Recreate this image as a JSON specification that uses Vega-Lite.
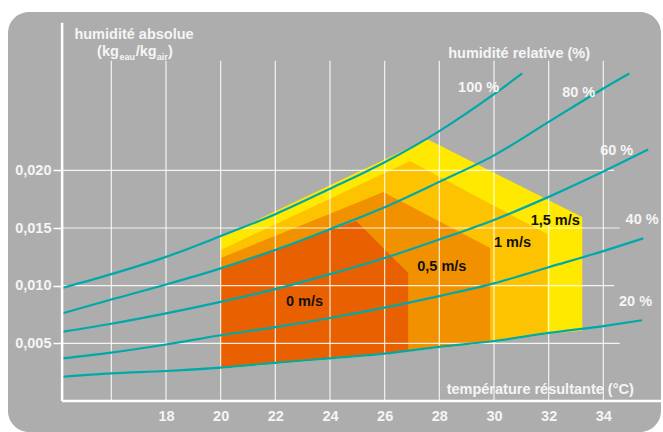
{
  "$schema": "https://vega.github.io/schema/vega-lite/v6.json",
  "width": 653,
  "height": 420,
  "autosize": {"type": "none"},
  "padding": {"left": 8, "top": 12, "right": 2, "bottom": 0},
  "background": "white",
  "config": {
    "view": {"fill": "#adadad", "stroke": null, "cornerRadius": 21},
    "text": {"font": "Liberation Sans", "fontWeight": "bold", "fontSize": 14.5},
    "axisX": {"offset": -31, "grid": false, "domain": false, "ticks": false, "tickSize": 0, "labelPadding": 8, "labelFont": "Liberation Sans", "labelFontWeight": "bold", "labelFontSize": 14.5, "labelColor": "#f5f5f5", "title": null},
    "axisY": {"offset": -54, "labelExpr": "replace(format(datum.value, '.3f'), '.', ',')", "grid": false, "domain": false, "ticks": true, "tickColor": "#ffffff", "tickSize": 9, "tickWidth": 1.5, "labelPadding": 2, "labelFont": "Liberation Sans", "labelFontWeight": "bold", "labelFontSize": 14.5, "labelColor": "#f5f5f5", "title": null}
  },
  "datasets": {
    "zones": [
      {"zone": "1,5 m/s", "T": 20, "top": 0.0142, "bottom": 0.0028},
      {"zone": "1,5 m/s", "T": 22, "top": 0.01645, "bottom": 0.0032},
      {"zone": "1,5 m/s", "T": 24, "top": 0.0187, "bottom": 0.0036},
      {"zone": "1,5 m/s", "T": 26, "top": 0.02095, "bottom": 0.0040},
      {"zone": "1,5 m/s", "T": 27.56, "top": 0.0227, "bottom": 0.0045},
      {"zone": "1,5 m/s", "T": 28, "top": 0.02218, "bottom": 0.0046},
      {"zone": "1,5 m/s", "T": 30, "top": 0.0198, "bottom": 0.0051},
      {"zone": "1,5 m/s", "T": 32, "top": 0.01741, "bottom": 0.0058},
      {"zone": "1,5 m/s", "T": 33.23, "top": 0.01595, "bottom": 0.0061},
      {"zone": "1 m/s", "T": 20, "top": 0.0131, "bottom": 0.0029},
      {"zone": "1 m/s", "T": 22, "top": 0.01532, "bottom": 0.0033},
      {"zone": "1 m/s", "T": 24, "top": 0.01754, "bottom": 0.0037},
      {"zone": "1 m/s", "T": 26, "top": 0.01977, "bottom": 0.0041},
      {"zone": "1 m/s", "T": 26.93, "top": 0.0208, "bottom": 0.0044},
      {"zone": "1 m/s", "T": 28, "top": 0.01945, "bottom": 0.0047},
      {"zone": "1 m/s", "T": 30, "top": 0.01693, "bottom": 0.0052},
      {"zone": "1 m/s", "T": 31.95, "top": 0.01448, "bottom": 0.0059},
      {"zone": "0,5 m/s", "T": 20, "top": 0.0124, "bottom": 0.0029},
      {"zone": "0,5 m/s", "T": 22, "top": 0.01432, "bottom": 0.0033},
      {"zone": "0,5 m/s", "T": 24, "top": 0.01624, "bottom": 0.0037},
      {"zone": "0,5 m/s", "T": 25.95, "top": 0.01812, "bottom": 0.0041},
      {"zone": "0,5 m/s", "T": 26, "top": 0.01806, "bottom": 0.0041},
      {"zone": "0,5 m/s", "T": 28, "top": 0.01558, "bottom": 0.0047},
      {"zone": "0,5 m/s", "T": 29.86, "top": 0.01327, "bottom": 0.0052},
      {"zone": "0 m/s", "T": 20, "top": 0.0116, "bottom": 0.0029},
      {"zone": "0 m/s", "T": 22, "top": 0.01321, "bottom": 0.0033},
      {"zone": "0 m/s", "T": 24, "top": 0.01483, "bottom": 0.0037},
      {"zone": "0 m/s", "T": 24.96, "top": 0.0156, "bottom": 0.0039},
      {"zone": "0 m/s", "T": 26, "top": 0.01314, "bottom": 0.0041},
      {"zone": "0 m/s", "T": 26.86, "top": 0.0111, "bottom": 0.0044}
    ],
    "curves": [
      {"rh": "100 %", "T": 14.2, "H": 0.0098},
      {"rh": "100 %", "T": 16, "H": 0.0110},
      {"rh": "100 %", "T": 18, "H": 0.0125},
      {"rh": "100 %", "T": 20, "H": 0.0143},
      {"rh": "100 %", "T": 22, "H": 0.0162},
      {"rh": "100 %", "T": 24, "H": 0.0184},
      {"rh": "100 %", "T": 26, "H": 0.0207},
      {"rh": "100 %", "T": 28, "H": 0.0234},
      {"rh": "100 %", "T": 30, "H": 0.0266},
      {"rh": "100 %", "T": 31.03, "H": 0.0284},
      {"rh": "80 %", "T": 14.2, "H": 0.0076},
      {"rh": "80 %", "T": 16, "H": 0.0088},
      {"rh": "80 %", "T": 18, "H": 0.0101},
      {"rh": "80 %", "T": 20, "H": 0.0115},
      {"rh": "80 %", "T": 22, "H": 0.0131},
      {"rh": "80 %", "T": 24, "H": 0.0149},
      {"rh": "80 %", "T": 26, "H": 0.0168},
      {"rh": "80 %", "T": 28, "H": 0.0190},
      {"rh": "80 %", "T": 30, "H": 0.0213},
      {"rh": "80 %", "T": 32, "H": 0.0242},
      {"rh": "80 %", "T": 34, "H": 0.0271},
      {"rh": "80 %", "T": 34.95, "H": 0.0284},
      {"rh": "60 %", "T": 14.2, "H": 0.0060},
      {"rh": "60 %", "T": 16, "H": 0.0067},
      {"rh": "60 %", "T": 18, "H": 0.0076},
      {"rh": "60 %", "T": 20, "H": 0.0086},
      {"rh": "60 %", "T": 22, "H": 0.0097},
      {"rh": "60 %", "T": 24, "H": 0.0110},
      {"rh": "60 %", "T": 26, "H": 0.0124},
      {"rh": "60 %", "T": 28, "H": 0.0140},
      {"rh": "60 %", "T": 30, "H": 0.0157},
      {"rh": "60 %", "T": 32, "H": 0.0177},
      {"rh": "60 %", "T": 34, "H": 0.0199},
      {"rh": "60 %", "T": 35.64, "H": 0.0218},
      {"rh": "40 %", "T": 14.2, "H": 0.0037},
      {"rh": "40 %", "T": 16, "H": 0.0042},
      {"rh": "40 %", "T": 18, "H": 0.0049},
      {"rh": "40 %", "T": 20, "H": 0.0057},
      {"rh": "40 %", "T": 22, "H": 0.0064},
      {"rh": "40 %", "T": 24, "H": 0.0072},
      {"rh": "40 %", "T": 26, "H": 0.0081},
      {"rh": "40 %", "T": 28, "H": 0.0091},
      {"rh": "40 %", "T": 30, "H": 0.0102},
      {"rh": "40 %", "T": 32, "H": 0.0116},
      {"rh": "40 %", "T": 34, "H": 0.0130},
      {"rh": "40 %", "T": 35.46, "H": 0.0141},
      {"rh": "20 %", "T": 14.2, "H": 0.0021},
      {"rh": "20 %", "T": 16, "H": 0.0024},
      {"rh": "20 %", "T": 18, "H": 0.0026},
      {"rh": "20 %", "T": 20, "H": 0.0029},
      {"rh": "20 %", "T": 22, "H": 0.0033},
      {"rh": "20 %", "T": 24, "H": 0.0037},
      {"rh": "20 %", "T": 26, "H": 0.0041},
      {"rh": "20 %", "T": 28, "H": 0.0047},
      {"rh": "20 %", "T": 30, "H": 0.0052},
      {"rh": "20 %", "T": 32, "H": 0.0059},
      {"rh": "20 %", "T": 34, "H": 0.0065},
      {"rh": "20 %", "T": 35.42, "H": 0.0070}
    ],
    "vgrid": [
      {"T": 16, "y0": 0, "y1": 0.0295},
      {"T": 18, "y0": 0, "y1": 0.0295},
      {"T": 20, "y0": 0, "y1": 0.0295},
      {"T": 22, "y0": 0, "y1": 0.0295},
      {"T": 24, "y0": 0, "y1": 0.0295},
      {"T": 26, "y0": 0, "y1": 0.0295},
      {"T": 28, "y0": 0, "y1": 0.0295},
      {"T": 30, "y0": 0, "y1": 0.0295},
      {"T": 32, "y0": 0, "y1": 0.0295},
      {"T": 34, "y0": 0, "y1": 0.0295}
    ],
    "hgrid": [
      {"H": 0.005, "x0": 14.2, "x1": 34.6},
      {"H": 0.010, "x0": 14.2, "x1": 34.4},
      {"H": 0.015, "x0": 14.2, "x1": 34.6},
      {"H": 0.020, "x0": 14.2, "x1": 34.4}
    ],
    "axislines": [
      {"x0": 14.2, "x1": 14.2, "y0": 0, "y1": 0.0328},
      {"x0": 14.2, "x1": 36.11, "y0": 0, "y1": 0}
    ],
    "labels": [
      {"label": "humidité absolue", "kind": "white", "T": 16.83, "H": 0.03139},
      {"label": "humidité relative (%)", "kind": "white", "T": 30.92, "H": 0.02974},
      {"label": "100 %", "kind": "white", "T": 29.44, "H": 0.02679},
      {"label": "80 %", "kind": "white", "T": 33.10, "H": 0.02636},
      {"label": "60 %", "kind": "white", "T": 34.49, "H": 0.02133},
      {"label": "40 %", "kind": "white", "T": 35.42, "H": 0.01535},
      {"label": "20 %", "kind": "white", "T": 35.18, "H": 0.00824},
      {"label": "température résultante (°C)", "kind": "white", "T": 31.69, "H": 0.00061},
      {"label": "0 m/s", "kind": "black", "T": 23.07, "H": 0.00824},
      {"label": "0,5 m/s", "kind": "black", "T": 28.09, "H": 0.01127},
      {"label": "1 m/s", "kind": "black", "T": 30.68, "H": 0.01335},
      {"label": "1,5 m/s", "kind": "black", "T": 32.24, "H": 0.01526},
      {"label": "(kg", "kind": "unit", "T": 15.48, "H": 0.02991},
      {"label": "eau", "kind": "sub", "T": 16.30, "H": 0.02957},
      {"label": "/kg", "kind": "unit", "T": 16.89, "H": 0.02991},
      {"label": "air", "kind": "sub", "T": 17.66, "H": 0.02957},
      {"label": ")", "kind": "unit", "T": 18.07, "H": 0.02991}
    ]
  },
  "layer": [
    {
      "data": {"name": "zones"},
      "transform": [{"filter": "datum.zone == '1,5 m/s'"}],
      "mark": {"type": "area", "color": "#ffe900", "interpolate": "linear"},
      "encoding": {
        "x": {"field": "T", "type": "quantitative", "title": null, "scale": {"domain": [12.22, 36.11], "nice": false, "zero": false},
          "axis": {"values": [18, 20, 22, 24, 26, 28, 30, 32, 34], "grid": false, "title": null}},
        "y": {"field": "top", "type": "quantitative", "title": null, "scale": {"domain": [-0.002688, 0.03373], "nice": false, "zero": false}, "stack": null,
          "axis": {"values": [0.005, 0.01, 0.015, 0.02], "grid": false, "title": null}},
        "y2": {"field": "bottom"}
      }
    },
    {
      "data": {"name": "zones"},
      "transform": [{"filter": "datum.zone == '1 m/s'"}],
      "mark": {"type": "area", "color": "#fdc300", "interpolate": "linear"},
      "encoding": {
        "x": {"field": "T", "type": "quantitative", "title": null},
        "y": {"field": "top", "type": "quantitative", "title": null, "stack": null},
        "y2": {"field": "bottom"}
      }
    },
    {
      "data": {"name": "zones"},
      "transform": [{"filter": "datum.zone == '0,5 m/s'"}],
      "mark": {"type": "area", "color": "#f29100", "interpolate": "linear"},
      "encoding": {
        "x": {"field": "T", "type": "quantitative", "title": null},
        "y": {"field": "top", "type": "quantitative", "title": null, "stack": null},
        "y2": {"field": "bottom"}
      }
    },
    {
      "data": {"name": "zones"},
      "transform": [{"filter": "datum.zone == '0 m/s'"}],
      "mark": {"type": "area", "color": "#e96000", "interpolate": "linear"},
      "encoding": {
        "x": {"field": "T", "type": "quantitative", "title": null},
        "y": {"field": "top", "type": "quantitative", "title": null, "stack": null},
        "y2": {"field": "bottom"}
      }
    },
    {
      "data": {"name": "vgrid"},
      "mark": {"type": "rule", "color": "#ffffff", "strokeWidth": 1.2, "opacity": 0.85},
      "encoding": {
        "x": {"field": "T", "type": "quantitative", "title": null},
        "y": {"field": "y0", "type": "quantitative", "title": null},
        "y2": {"field": "y1"}
      }
    },
    {
      "data": {"name": "hgrid"},
      "mark": {"type": "rule", "color": "#ffffff", "strokeWidth": 1.2, "opacity": 0.85},
      "encoding": {
        "y": {"field": "H", "type": "quantitative", "title": null},
        "x": {"field": "x0", "type": "quantitative", "title": null},
        "x2": {"field": "x1"}
      }
    },
    {
      "data": {"name": "curves"},
      "mark": {"type": "line", "color": "#00a9a9", "strokeWidth": 2.2, "interpolate": "monotone"},
      "encoding": {
        "x": {"field": "T", "type": "quantitative", "title": null},
        "y": {"field": "H", "type": "quantitative", "title": null},
        "detail": {"field": "rh"}
      }
    },
    {
      "data": {"name": "axislines"},
      "mark": {"type": "rule", "color": "#ffffff", "strokeWidth": 2.5},
      "encoding": {
        "x": {"field": "x0", "type": "quantitative", "title": null},
        "x2": {"field": "x1"},
        "y": {"field": "y0", "type": "quantitative", "title": null},
        "y2": {"field": "y1"}
      }
    },
    {
      "data": {"name": "labels"},
      "transform": [{"filter": "datum.kind == 'white'"}],
      "mark": {"type": "text", "color": "#f5f5f5", "align": "center", "baseline": "alphabetic"},
      "encoding": {
        "x": {"field": "T", "type": "quantitative", "title": null},
        "y": {"field": "H", "type": "quantitative", "title": null},
        "text": {"field": "label"}
      }
    },
    {
      "data": {"name": "labels"},
      "transform": [{"filter": "datum.kind == 'black'"}],
      "mark": {"type": "text", "color": "#111111", "align": "center", "baseline": "alphabetic"},
      "encoding": {
        "x": {"field": "T", "type": "quantitative", "title": null},
        "y": {"field": "H", "type": "quantitative", "title": null},
        "text": {"field": "label"}
      }
    },
    {
      "data": {"name": "labels"},
      "transform": [{"filter": "datum.kind == 'unit'"}],
      "mark": {"type": "text", "color": "#f5f5f5", "align": "left", "baseline": "alphabetic"},
      "encoding": {
        "x": {"field": "T", "type": "quantitative", "title": null},
        "y": {"field": "H", "type": "quantitative", "title": null},
        "text": {"field": "label"}
      }
    },
    {
      "data": {"name": "labels"},
      "transform": [{"filter": "datum.kind == 'sub'"}],
      "mark": {"type": "text", "color": "#f5f5f5", "align": "left", "baseline": "alphabetic", "fontSize": 9},
      "encoding": {
        "x": {"field": "T", "type": "quantitative", "title": null},
        "y": {"field": "H", "type": "quantitative", "title": null},
        "text": {"field": "label"}
      }
    }
  ]
}
